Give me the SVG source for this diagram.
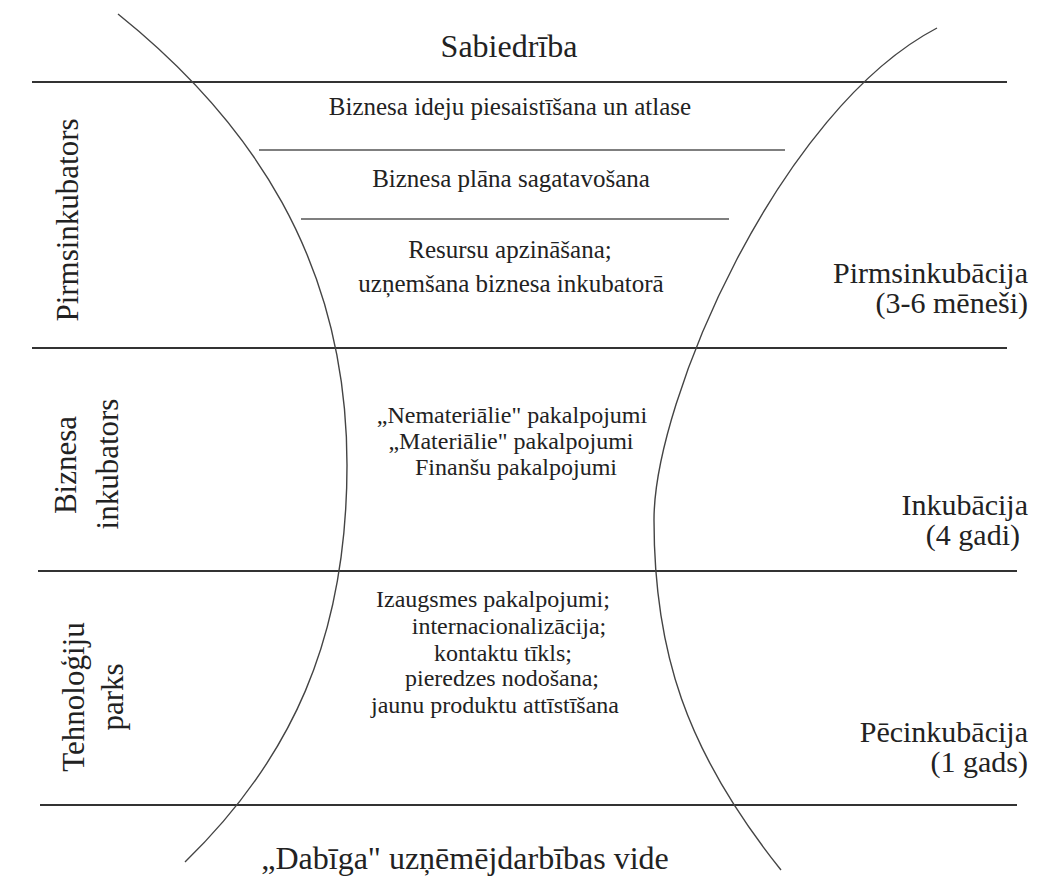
<svg xmlns="http://www.w3.org/2000/svg" width="1052" height="890" viewBox="0 0 1052 890">
<style>
text{font-family:"Liberation Serif","Times New Roman",serif;fill:#222}
.main{stroke:#333;stroke-width:2;fill:none}
.inner{stroke:#555;stroke-width:1.5;fill:none}
.curve{stroke:#444;stroke-width:1.4;fill:none}
</style>
<rect width="1052" height="890" fill="#fff"/>
<g id="frame">
<line class="main" x1="32" y1="82" x2="1007" y2="82"/>
<line class="main" x1="32" y1="348" x2="1007" y2="348"/>
<line class="main" x1="38" y1="571" x2="1017" y2="571"/>
<line class="main" x1="40" y1="805" x2="1017" y2="805"/>
<line class="inner" x1="259" y1="150" x2="785" y2="150"/>
<line class="inner" x1="301" y1="219" x2="729" y2="219"/>
<path class="curve" d="M118,14 C250,120 347,260 347,465 C347,640 290,760 185,862"/>
<path class="curve" d="M937,28 C780,110 654,400 654,520 C654,650 685,750 781,870"/>
</g>
<g id="sabiedriba" font-family="'Liberation Serif', serif" font-size="32" text-anchor="middle">
<text x="509" y="57">Sabiedrība</text>
</g>
<g id="pre-steps" font-family="'Liberation Serif', serif" font-size="25" text-anchor="middle">
<text x="510" y="115">Biznesa ideju piesaistīšana un atlase</text>
<text x="511" y="187">Biznesa plāna sagatavošana</text>
<text x="510" y="258">Resursu apzināšana;</text>
<text x="511" y="292">uzņemšana biznesa inkubatorā</text>
</g>
<g id="inc-services" font-family="'Liberation Serif', serif" font-size="24" text-anchor="middle">
<text x="512" y="423">„Nemateriālie" pakalpojumi</text>
<text x="511" y="449">„Materiālie" pakalpojumi</text>
<text x="516" y="475">Finanšu pakalpojumi</text>
</g>
<g id="post-services" font-family="'Liberation Serif', serif" font-size="24" text-anchor="middle">
<text x="493" y="607">Izaugsmes pakalpojumi;</text>
<text x="509" y="634">internacionalizācija;</text>
<text x="503" y="661">kontaktu tīkls;</text>
<text x="502" y="686">pieredzes nodošana;</text>
<text x="495" y="713">jaunu produktu attīstīšana</text>
</g>
<g id="left-pirms" font-family="'Liberation Serif', serif" font-size="31" text-anchor="middle">
<text transform="translate(78,220) rotate(-90)">Pirmsinkubators</text>
</g>
<g id="left-bi" font-family="'Liberation Serif', serif" font-size="31" text-anchor="middle">
<text transform="translate(76,465) rotate(-90)">Biznesa</text>
<text transform="translate(118,464) rotate(-90)">inkubators</text>
</g>
<g id="left-tp" font-family="'Liberation Serif', serif" font-size="31" text-anchor="middle">
<text transform="translate(84,697) rotate(-90)">Tehnoloģiju</text>
<text transform="translate(123,697) rotate(-90)">parks</text>
</g>
<g id="right-pre" font-family="'Liberation Serif', serif" font-size="30" text-anchor="end">
<text x="1028" y="283">Pirmsinkubācija</text>
<text x="1028" y="313">(3-6 mēneši)</text>
</g>
<g id="right-inc" font-family="'Liberation Serif', serif" font-size="30" text-anchor="end">
<text x="1028" y="515">Inkubācija</text>
<text x="1020" y="545">(4 gadi)</text>
</g>
<g id="right-post" font-family="'Liberation Serif', serif" font-size="30" text-anchor="end">
<text x="1028" y="742">Pēcinkubācija</text>
<text x="1028" y="772">(1 gads)</text>
</g>
<g id="dabiga" font-family="'Liberation Serif', serif" font-size="32" text-anchor="middle">
<text x="465" y="869">„Dabīga" uzņēmējdarbības vide</text>
</g>
</svg>
